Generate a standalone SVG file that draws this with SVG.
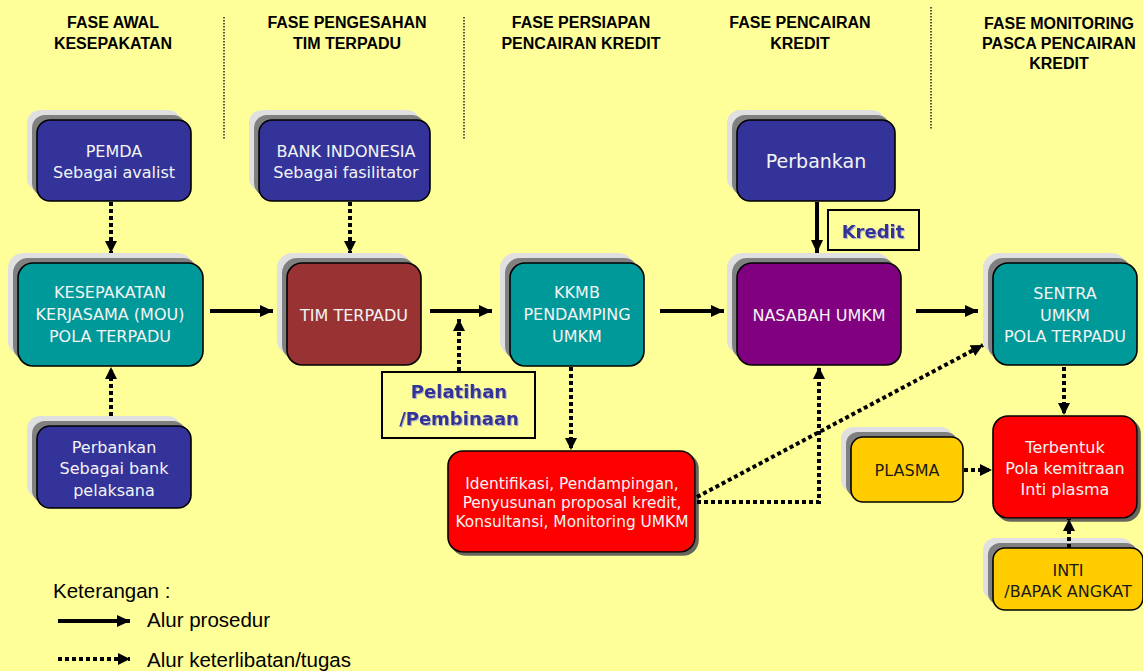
<svg xmlns="http://www.w3.org/2000/svg" width="1143" height="671" viewBox="0 0 1143 671">
<defs>
<marker id="ah" markerUnits="userSpaceOnUse" markerWidth="14" markerHeight="14" refX="13" refY="6" orient="auto"><path d="M0,0 L13,6 L0,12 z" fill="#000"/></marker>
<marker id="ahd" markerUnits="userSpaceOnUse" markerWidth="14" markerHeight="14" refX="12" refY="6" orient="auto"><path d="M0,0 L12,6 L0,12 z" fill="#000"/></marker>
<filter id="ds" x="-10%" y="-10%" width="130%" height="130%"><feDropShadow dx="3" dy="3" stdDeviation="0.6" flood-color="#555" flood-opacity="0.9"/></filter>
<filter id="ts" x="-10%" y="-20%" width="130%" height="150%"><feDropShadow dx="1" dy="1" stdDeviation="0.3" flood-color="#a8a8c8" flood-opacity="0.9"/></filter>
</defs>
<style>
.hdr{font-family:"Liberation Sans",Arial,sans-serif;font-weight:bold;font-size:16px;fill:#000;text-anchor:middle}
.sep{stroke:#222;stroke-width:1.5;stroke-dasharray:1.5 1.5;fill:none}
.l1{fill:#e0e0e0}
.l2{fill:#808080}
.box{stroke:#000;stroke-width:1.6}
.blue{fill:#333399}
.teal{fill:#009999}
.brick{fill:#993333}
.purple{fill:#800080}
.red{fill:#ff0000}
.gold{fill:#ffcc00}
.t{font-family:"DejaVu Sans",Verdana,sans-serif;font-size:16px;fill:#f4f4f4;text-anchor:middle}
.td{font-family:"DejaVu Sans",Verdana,sans-serif;font-size:16px;fill:#1a1a1a;text-anchor:middle}
.lbl{font-family:"DejaVu Sans",Verdana,sans-serif;font-weight:bold;font-size:18px;fill:#333399;text-anchor:middle}
.lblbox{fill:#ffff99;stroke:#000;stroke-width:2}
.solid{stroke:#000;stroke-width:4;fill:none;marker-end:url(#ah)}
.dot{stroke:#000;stroke-width:4;stroke-dasharray:4 3;fill:none;marker-end:url(#ahd)}
.leg{font-family:"Liberation Sans",Arial,sans-serif;font-size:20.5px;fill:#000}
</style>
<rect x="0" y="0" width="1143" height="671" fill="#ffff99"/>

<g id="headers">
<text class="hdr" x="113" y="28">FASE AWAL</text>
<text class="hdr" x="113" y="49">KESEPAKATAN</text>
<text class="hdr" x="347" y="28">FASE PENGESAHAN</text>
<text class="hdr" x="347" y="49">TIM TERPADU</text>
<text class="hdr" x="581" y="28">FASE PERSIAPAN</text>
<text class="hdr" x="581" y="49">PENCAIRAN KREDIT</text>
<text class="hdr" x="800" y="28">FASE PENCAIRAN</text>
<text class="hdr" x="800" y="49">KREDIT</text>
<text class="hdr" x="1059" y="29">FASE MONITORING</text>
<text class="hdr" x="1059" y="49">PASCA PENCAIRAN</text>
<text class="hdr" x="1059" y="69">KREDIT</text>
<line class="sep" x1="224" y1="17" x2="224" y2="140"/>
<line class="sep" x1="464" y1="17" x2="464" y2="140"/>
<line class="sep" x1="931" y1="7" x2="931" y2="130"/>
</g>

<g id="node-pemda">
<rect class="l1" x="27" y="110" width="154" height="81" rx="13"/>
<rect class="l2" x="32" y="115" width="154" height="81" rx="13"/>
<rect class="box blue" x="37" y="120" width="154" height="81" rx="13"/>
<text class="t" x="114" y="157">PEMDA</text>
<text class="t" x="114" y="178">Sebagai avalist</text>
</g>

<g id="node-bi">
<rect class="l1" x="249" y="110" width="171" height="81" rx="13"/>
<rect class="l2" x="254" y="115" width="171" height="81" rx="13"/>
<rect class="box blue" x="259" y="120" width="171" height="81" rx="13"/>
<text class="t" x="346" y="157">BANK INDONESIA</text>
<text class="t" x="346" y="178">Sebagai fasilitator</text>
</g>

<g id="node-perbankan-top">
<rect class="l1" x="727" y="110" width="158" height="81" rx="13"/>
<rect class="l2" x="732" y="115" width="158" height="81" rx="13"/>
<rect class="box blue" x="737" y="120" width="158" height="81" rx="13"/>
<text class="t" x="816" y="168" style="font-size:19px">Perbankan</text>
</g>

<g id="node-kesepakatan">
<rect class="l1" x="8" y="253" width="185" height="103" rx="15"/>
<rect class="l2" x="13" y="258" width="185" height="103" rx="15"/>
<rect class="box teal" x="18" y="263" width="185" height="103" rx="15"/>
<text class="t" x="110" y="298">KESEPAKATAN</text>
<text class="t" x="110" y="320">KERJASAMA (MOU)</text>
<text class="t" x="110" y="342">POLA TERPADU</text>
</g>

<g id="node-tim">
<rect class="l1" x="277" y="253" width="134" height="102" rx="15"/>
<rect class="l2" x="282" y="258" width="134" height="102" rx="15"/>
<rect class="box brick" x="287" y="263" width="134" height="102" rx="15"/>
<text class="t" x="354" y="321">TIM TERPADU</text>
</g>

<g id="node-kkmb">
<rect class="l1" x="500" y="253" width="134" height="103" rx="15"/>
<rect class="l2" x="505" y="258" width="134" height="103" rx="15"/>
<rect class="box teal" x="510" y="263" width="134" height="103" rx="15"/>
<text class="t" x="577" y="298">KKMB</text>
<text class="t" x="577" y="320">PENDAMPING</text>
<text class="t" x="577" y="342">UMKM</text>
</g>

<g id="node-nasabah">
<rect class="l1" x="727" y="253" width="164" height="102" rx="15"/>
<rect class="l2" x="732" y="258" width="164" height="102" rx="15"/>
<rect class="box purple" x="737" y="263" width="164" height="102" rx="15"/>
<text class="t" x="819" y="321">NASABAH UMKM</text>
</g>

<g id="node-sentra">
<rect class="l1" x="983" y="253" width="144" height="102" rx="15"/>
<rect class="l2" x="988" y="258" width="144" height="102" rx="15"/>
<rect class="box teal" x="993" y="263" width="144" height="102" rx="15"/>
<text class="t" x="1065" y="299">SENTRA</text>
<text class="t" x="1065" y="321">UMKM</text>
<text class="t" x="1065" y="342">POLA TERPADU</text>
</g>

<g id="node-perbankan-bottom">
<rect class="l1" x="27" y="416" width="154" height="82" rx="13"/>
<rect class="l2" x="32" y="421" width="154" height="82" rx="13"/>
<rect class="box blue" x="37" y="426" width="154" height="82" rx="13"/>
<text class="t" x="114" y="453">Perbankan</text>
<text class="t" x="114" y="474">Sebagai bank</text>
<text class="t" x="114" y="496">pelaksana</text>
</g>

<g id="node-identifikasi">
<rect class="box red" x="448" y="451" width="247" height="101" rx="15" filter="url(#ds)"/>
<text class="t" x="572" y="489" style="font-size:15.4px">Identifikasi, Pendampingan,</text>
<text class="t" x="572" y="508" style="font-size:15.4px">Penyusunan proposal kredit,</text>
<text class="t" x="572" y="527" style="font-size:15.4px">Konsultansi, Monitoring UMKM</text>
</g>

<g id="node-plasma">
<rect class="l1" x="841" y="427" width="112" height="65" rx="12"/>
<rect class="l2" x="846" y="432" width="112" height="65" rx="12"/>
<rect class="box gold" x="851" y="437" width="112" height="65" rx="12"/>
<text class="td" x="907" y="476">PLASMA</text>
</g>

<g id="node-terbentuk">
<rect class="box red" x="993" y="416" width="144" height="102" rx="15" filter="url(#ds)"/>
<text class="t" x="1065" y="453">Terbentuk</text>
<text class="t" x="1065" y="474">Pola kemitraan</text>
<text class="t" x="1065" y="495">Inti plasma</text>
</g>

<g id="node-inti">
<rect class="l1" x="983" y="538" width="150" height="62" rx="12"/>
<rect class="l2" x="988" y="543" width="150" height="62" rx="12"/>
<rect class="box gold" x="993" y="548" width="150" height="62" rx="12"/>
<text class="td" x="1068" y="576">INTI</text>
<text class="td" x="1068" y="597">/BAPAK ANGKAT</text>
</g>

<g id="label-pelatihan">
<rect class="lblbox" x="382" y="372" width="153" height="66"/>
<text class="lbl" x="459" y="398" filter="url(#ts)">Pelatihan</text>
<text class="lbl" x="459" y="425" filter="url(#ts)">/Pembinaan</text>
</g>

<g id="label-kredit">
<rect class="lblbox" x="828" y="210" width="91" height="40"/>
<text class="lbl" x="873" y="238" filter="url(#ts)">Kredit</text>
</g>

<g id="connectors">
<line class="dot" x1="111" y1="202" x2="111" y2="253"/>
<line class="dot" x1="111" y1="416" x2="111" y2="367"/>
<line class="dot" x1="350" y1="202" x2="350" y2="253"/>
<line class="solid" x1="210" y1="311" x2="273" y2="311"/>
<line class="solid" x1="430" y1="311" x2="492" y2="311"/>
<line class="dot" x1="459" y1="371" x2="459" y2="319"/>
<line class="solid" x1="660" y1="311" x2="724" y2="311"/>
<line class="solid" x1="916" y1="311" x2="978" y2="311"/>
<line class="solid" x1="817" y1="202" x2="817" y2="253"/>
<line class="dot" x1="571" y1="367" x2="571" y2="450"/>
<polyline class="dot" points="697,502 819,502 819,367"/>
<line class="dot" x1="697" y1="497" x2="983" y2="345"/>
<line class="dot" x1="1064" y1="367" x2="1064" y2="415"/>
<line class="dot" x1="964" y1="470" x2="992" y2="470"/>
<line class="dot" x1="1069" y1="548" x2="1069" y2="519"/>
</g>

<g id="legend">
<text class="leg" x="53" y="598">Keterangan :</text>
<line class="solid" x1="58" y1="621" x2="130" y2="621"/>
<text class="leg" x="147" y="627">Alur prosedur</text>
<line class="dot" x1="58" y1="659" x2="130" y2="659"/>
<text class="leg" x="147" y="667">Alur keterlibatan/tugas</text>
</g>
</svg>
